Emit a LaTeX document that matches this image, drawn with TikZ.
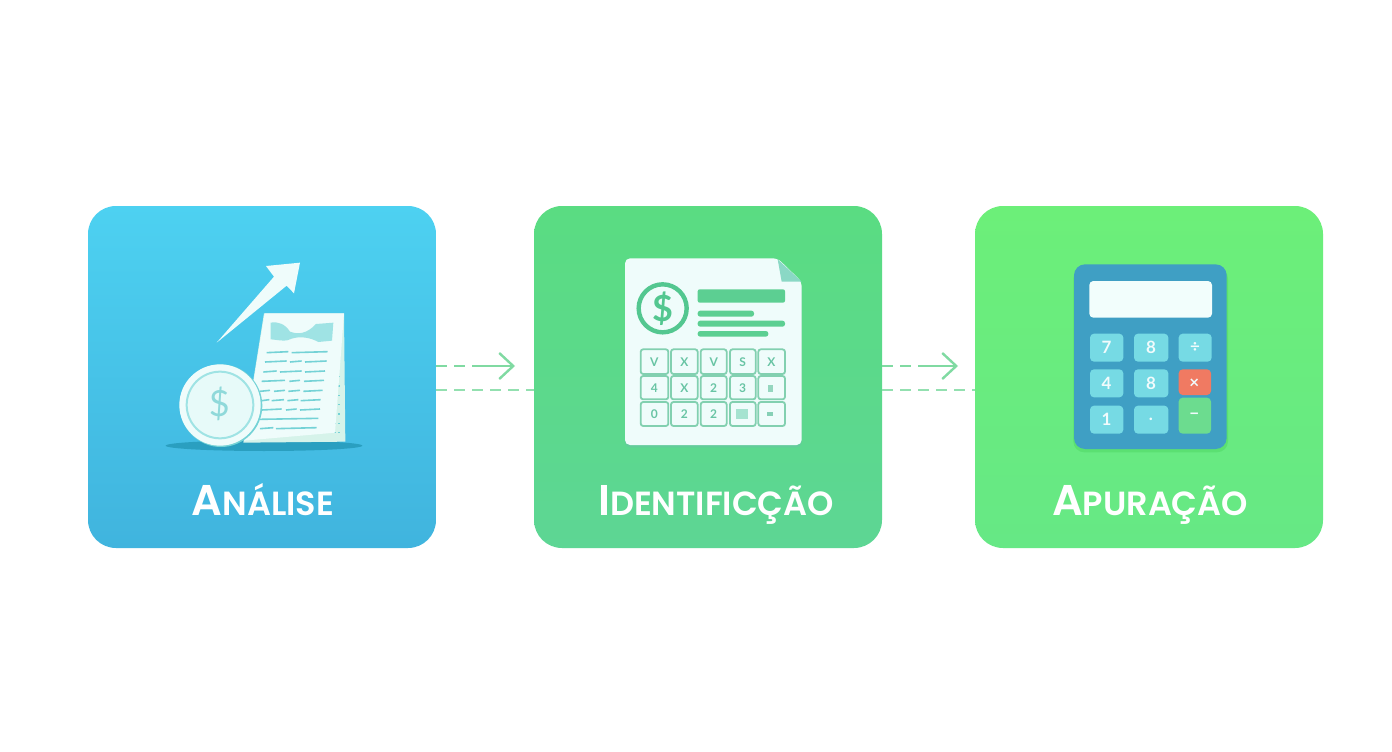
\documentclass[tikz,border=0pt]{standalone}
\usepackage{fontspec}
\setmainfont{Lato}
\newfontfamily\tilefont{Poppins SemiBold}
\usetikzlibrary{arrows.meta}
\definecolor{flowgreen}{HTML}{80DAA2}
\definecolor{paperpale}{HTML}{EFFCFB}
\definecolor{paperback}{HTML}{D6F3EA}
\definecolor{rowteal}{HTML}{74D2D6}
\definecolor{ringteal}{HTML}{9FE3E4}
\definecolor{docgreen}{HTML}{5CCF92}
\definecolor{keyedge}{HTML}{82D0B0}
\definecolor{keytext}{HTML}{68C4A4}
\definecolor{calcbody}{HTML}{3F9FC4}
\definecolor{calckey}{HTML}{76DAE4}
\definecolor{blueup}{HTML}{4DD1F1}
\definecolor{bluelow}{HTML}{40B4DE}
\definecolor{midup}{HTML}{5ADC82}
\definecolor{midlow}{HTML}{5DD694}
\definecolor{limeup}{HTML}{6CEF79}
\definecolor{limelow}{HTML}{66E885}
\definecolor{groundblue}{HTML}{2A9FC0}
\definecolor{foldteal}{HTML}{8AD8C5}
\definecolor{blockteal}{HTML}{A5E3D0}
\definecolor{screenpale}{HTML}{F2FEFC}
\definecolor{keyorange}{HTML}{F07A62}
\definecolor{keygreen}{HTML}{6CDC8F}
\tikzstyle{tile}=[rectangle, rounded corners=28pt, minimum width=348pt, minimum height=342pt, inner sep=0pt]
\tikzstyle{tilelabel}=[text=white, font=\tilefont, inner sep=0pt, anchor=base]
\tikzstyle{flowtop}=[flowgreen, line width=2.4pt, dash pattern=on 11pt off 7pt on 11pt off 7pt on 70pt, -{Straight Barb[length=14pt,width=26pt]}]
\tikzstyle{flowlow}=[flowgreen!85, line width=2pt, dash pattern=on 11pt off 7pt]
\tikzstyle{rowline}=[rowteal, line width=1.6pt]
\tikzstyle{dockey}=[draw=keyedge, line width=1.8pt, fill=paperpale, rounded corners=2.5pt]
\tikzstyle{dockeytext}=[text=keytext, font=\fontsize{12}{12}\selectfont\bfseries, inner sep=0pt]
\tikzstyle{calcbtn}=[rounded corners=4pt]
\tikzstyle{calctext}=[text=white!90!calckey, font=\fontsize{17}{17}\selectfont\bfseries, inner sep=0pt]
\newcommand{\capword}[2]{{\fontsize{43}{43}\selectfont #1}{\fontsize{33.5}{33.5}\selectfont #2}}
\begin{document}
\begin{tikzpicture}[x=1pt,y=-1pt]
  \useasboundingbox (0,0) rectangle (1392,752);
  \fill[white] (0,0) rectangle (1392,752);

  \node[tile, top color=blueup, bottom color=bluelow] (analise) at (262,377) {};
  \node[tile, top color=midup, bottom color=midlow] (ident) at (708,377) {};
  \node[tile, top color=limeup, bottom color=limelow] (apura) at (1149,377) {};

  \node[tilelabel] (analisetxt) at (263,515) {\capword{A}{NÁLISE}};
  \node[tilelabel] (identtxt) at (716,515) {\capword{I}{DENTIFICÇÃO}};
  \node[tilelabel] (apuratxt) at (1150,515) {\capword{A}{PURAÇÃO}};

  \coordinate (headone) at (515,366);
  \coordinate (headtwo) at (958,366);
  \draw[flowtop] ([yshift=11pt]analise.east) -- (headone);
  \draw[flowlow] ([yshift=-13pt]analise.east) -- ([yshift=-13pt]ident.west);
  \draw[flowtop] ([yshift=11pt]ident.east) -- (headtwo);
  \draw[flowlow] ([yshift=-13pt]ident.east) -- ([yshift=-13pt]apura.west);

  % first icon
  \begin{scope}[shift={(150,250)},scale=1/3]
    \fill[groundblue] (342,587) ellipse (295 and 16);
    \fill[paperpale] (200,278) -- (372,80) -- (348,48) -- (450,38) -- (432,130) -- (410,107) -- cycle;
    \fill[paperback] (342,190) -- (582,190) -- (586,575) -- (280,578) -- cycle;
    \foreach \y in {380,408,436,464,492,520,548}
      \draw[rowline] (550,\y) -- (558,\y) (564,\y) -- (570,\y);
    \fill[paperpale] (344,190) -- (582,190) -- (555,548) -- (282,572) -- cycle;
    \fill[ringteal] (362,218) .. controls (385,214) and (405,222) .. (420,245)
       .. controls (445,254) and (470,252) .. (498,222) -- (550,218) -- (546,272) -- (505,276)
       .. controls (480,262) and (450,258) .. (425,266) .. controls (410,276) and (385,270) .. (362,268) -- cycle;
    \foreach \y/\a/\b in {308/350/415,308/425/533,336/345/410,336/420/455,336/465/530,366/340/380,366/390/455,366/465/525,394/335/405,394/418/450,394/462/522,424/330/360,424/372/405,424/415/450,424/460/518,452/335/358,452/365/402,452/412/445,452/452/512,480/335/395,480/408/440,480/450/510,508/330/505,536/330/370,536/378/500}
      \draw[rowline] (\a,\y) -- (\b,\y-3);
    \fill[rowteal] (213,467) circle (124);
    \fill[paperpale] (210,465) circle (122);
    \draw[ringteal, line width=2pt, fill=paperpale!90!ringteal] (210,465) circle (100);
    \node[text=ringteal!90!teal, font=\fontsize{36}{36}\selectfont, inner sep=0pt] (coinone) at (208,463) {\$};
  \end{scope}

  % second icon
  \begin{scope}[shift={(610,250)},scale=1/3]
    \fill[keytext, opacity=.6, rounded corners=5pt] (45,31) -- (503,31) -- (575,101) -- (575,592) -- (45,592) -- cycle;
    \fill[paperpale, rounded corners=5pt] (45,25) -- (503,25) -- (575,95) -- (575,585) -- (45,585) -- cycle;
    \fill[foldteal] (503,28) -- (575,95) -- (515,95) -- cycle;
    \draw[docgreen!90!teal, line width=4.4pt] (158,175) circle (72);
    \node[text=docgreen!90!teal, font=\fontsize{36}{36}\selectfont\bfseries, inner sep=0pt] (cointwo) at (158,175) {\$};
    \fill[docgreen, rounded corners=2pt] (263,118) rectangle (525,158);
    \fill[docgreen, rounded corners=2.5pt] (263,182) rectangle (432,200);
    \fill[docgreen, rounded corners=2.5pt] (263,212) rectangle (525,230);
    \fill[docgreen, rounded corners=2.5pt] (263,243) rectangle (475,260);
    \foreach \a/\b in {92/175,183/263,272/350,360/437,445/525}
      \foreach \c/\d in {298/372,378/448,456/528}
        \draw[dockey] (\a,\c) rectangle (\b,\d);
    \foreach \n/\x/\y/\t in {a/133/335/V,b/223/335/X,c/311/335/V,d/398/335/S,e/484/335/X,f/133/413/4,g/223/413/X,h/311/413/2,i/398/413/3,k/133/492/0,l/223/492/2,m/311/492/2}
      \node[dockeytext] (dk\n) at (\x,\y) {\t};
    \fill[blockteal] (378,478) rectangle (415,508);
    \fill[keytext!70] (475,405) rectangle (490,425);
    \fill[keytext!80] (470,487) rectangle (490,497);
  \end{scope}

  % third icon
  \begin{scope}[shift={(1060,255)},scale=1/3]
    \fill[black!40!green, opacity=.12, rounded corners=11pt] (40,38) rectangle (504,592);
    \fill[calcbody, rounded corners=11pt] (42,28) rectangle (500,582);
    \fill[screenpale, rounded corners=4pt] (88,78) rectangle (456,188);
    \foreach \a/\b in {90/190,222/325}
      \foreach \c/\d in {236/320,343/427,452/536}
        \fill[calckey, calcbtn] (\a,\c) rectangle (\b,\d);
    \fill[calckey, calcbtn] (356,236) rectangle (455,320);
    \fill[keyorange, calcbtn] (356,343) rectangle (453,420);
    \fill[keygreen, calcbtn] (356,428) rectangle (453,536);
    \foreach \n/\x/\y/\t in {a/140/278/7,b/273/278/8,c/405/278/÷,d/140/385/4,e/273/385/8,f/403/385/×,g/140/494/1,h/273/494/.,i/403/484/−}
      \node[calctext] (ck\n) at (\x,\y) {\t};
  \end{scope}
\end{tikzpicture}
\end{document}
